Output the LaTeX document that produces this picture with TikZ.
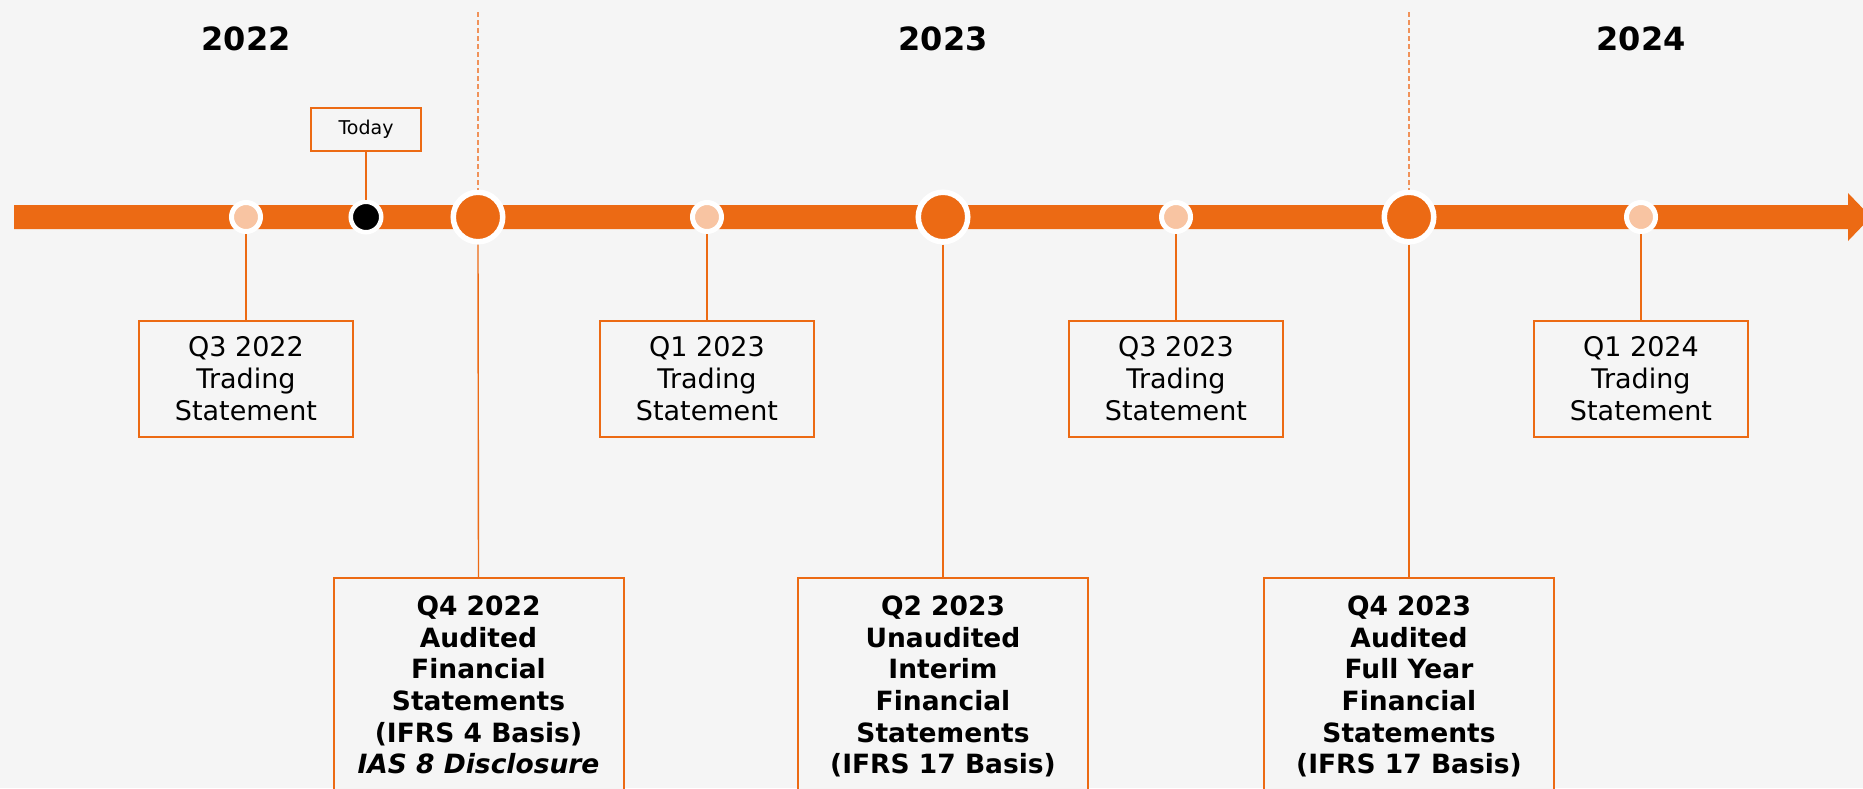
\documentclass[tikz,border=0pt]{standalone}
\usepackage{fontspec}
\setmainfont{DejaVu Sans}
\definecolor{bg}{HTML}{F5F5F5}
\definecolor{org}{HTML}{EC6A14}
\definecolor{peach}{HTML}{F8C4A2}
\definecolor{dashorg}{HTML}{F0925A}
\begin{document}
\begin{tikzpicture}[x=1pt,y=-1pt,
  year/.style={font=\bfseries\fontsize{32}{38}\selectfont},
  sbox/.style={draw=org, line width=2pt, fill=bg, minimum width=214pt, minimum height=116pt, align=center, inner sep=0pt, font=\fontsize{27}{32}\selectfont},
  bbox/.style={draw=org, line width=2pt, fill=bg, minimum width=290pt, align=center, anchor=north, inner xsep=0pt, inner ysep=18pt, font=\bfseries\fontsize{26.5}{31.6}\selectfont},
  tbox/.style={draw=org, line width=1.8pt, fill=bg, minimum width=110pt, minimum height=43pt, inner sep=0pt, font=\fontsize{19}{22}\selectfont},
  dotS/.style={circle, fill=peach, draw=white, line width=5pt, minimum size=29pt, inner sep=0pt},
  dotB/.style={circle, fill=org, draw=white, line width=5.5pt, minimum size=49.5pt, inner sep=0pt},
  dotT/.style={circle, fill=black, draw=white, line width=4.5pt, minimum size=30.5pt, inner sep=0pt},
  conn/.style={draw=org, line width=1.4pt},
  dline/.style={draw=dashorg, line width=1.6pt, dash pattern=on 5pt off 3pt}]
\useasboundingbox (0,0) rectangle (1863,788);
\clip (0,0) rectangle (1863,788);
\fill[bg] (0,0) rectangle (1863,788);
% timeline arrow
\fill[org] (14,205) -- (1848,205) -- (1848,193) -- (1871,217) -- (1848,241) -- (1848,229) -- (14,229) -- cycle;
% years
\node[year] (y22) at (246,39) {2022};
\node[year] (y23) at (943,39) {2023};
\node[year] (y24) at (1641,39) {2024};
% dots
\node[dotS] (d1) at (246,217) {};
\node[dotT] (dt) at (366,217) {};
\node[dotB] (D1) at (478,217) {};
\node[dotS] (d2) at (707,217) {};
\node[dotB] (D2) at (943,217) {};
\node[dotS] (d3) at (1176,217) {};
\node[dotB] (D3) at (1409,217) {};
\node[dotS] (d4) at (1641,217) {};
% dashed year separators
\coordinate (t1) at (478,12);
\coordinate (t2) at (1409,12);
\draw[dline] (t1) -- (D1.north);
\draw[dline] (t2) -- (D3.north);
% today
\node[tbox] (today) at (366,129.5) {Today};
\draw[conn] (today.south) -- (dt.north);
% small boxes
\node[sbox] (s1) at (246,379) {Q3 2022\\Trading\\Statement};
\node[sbox] (s2) at (707,379) {Q1 2023\\Trading\\Statement};
\node[sbox] (s3) at (1176,379) {Q3 2023\\Trading\\Statement};
\node[sbox] (s4) at (1641,379) {Q1 2024\\Trading\\Statement};
\draw[conn] (d1.south) -- (s1.north);
\draw[conn] (d2.south) -- (s2.north);
\draw[conn] (d3.south) -- (s3.north);
\draw[conn] (d4.south) -- (s4.north);
% big boxes
\node[bbox] (b1) at (478.5,577) {Q4 2022\\Audited\\Financial\\Statements\\(IFRS 4 Basis)\\\textit{IAS 8 Disclosure}};
\node[bbox] (b2) at (943,577) {Q2 2023\\Unaudited\\Interim\\Financial\\Statements\\(IFRS 17 Basis)};
\node[bbox] (b3) at (1409,577) {Q4 2023\\Audited\\Full Year\\Financial\\Statements\\(IFRS 17 Basis)};
\draw[conn] (D1.south) -- (b1.north);
\draw[conn] (D2.south) -- (b2.north);
\draw[conn] (D3.south) -- (b3.north);
\end{tikzpicture}
\end{document}
